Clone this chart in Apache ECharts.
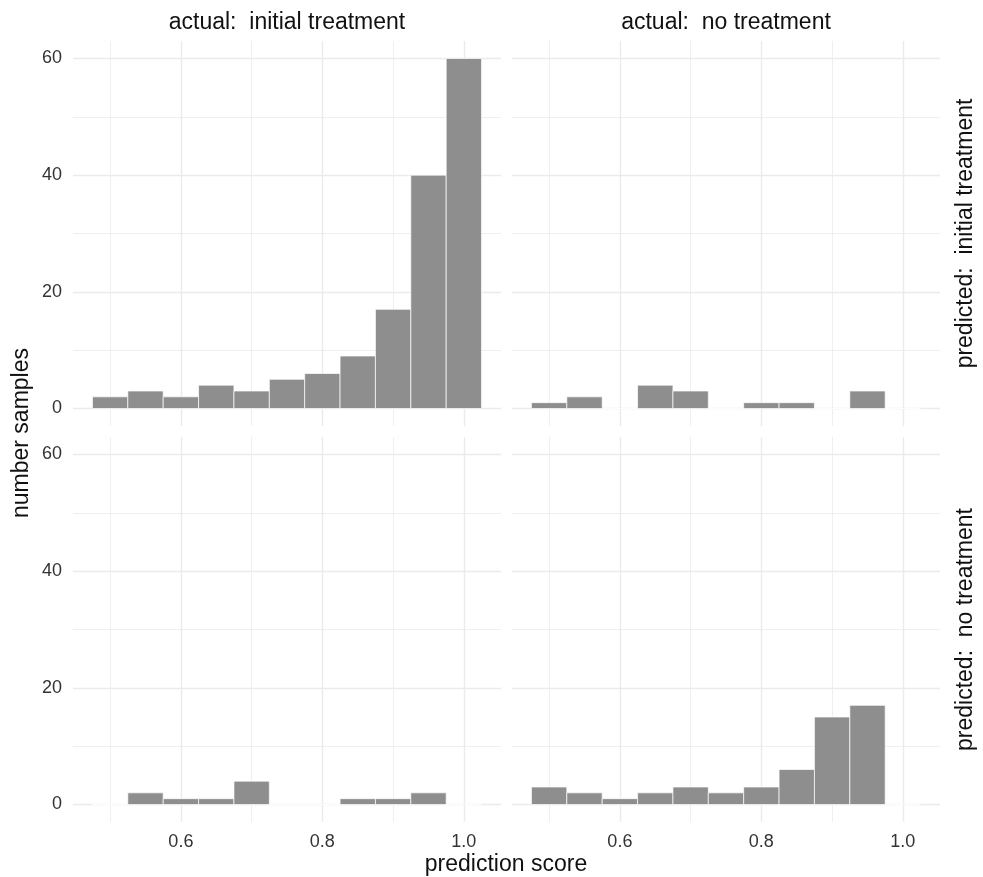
<!DOCTYPE html>
<html>
<head>
<meta charset="utf-8">
<script src="https://cdn.jsdelivr.net/npm/echarts@6/dist/echarts.min.js"></script>
<style>html,body{margin:0;padding:0;background:#fff}#c{width:983px;height:877px}</style>
</head>
<body>
<div id="c"></div>
<script>
// ---- data ----
const binCenters = [0.5, 0.55, 0.6, 0.65, 0.7, 0.75, 0.8, 0.85, 0.9, 0.95, 1.0];
const binWidth = 0.05;
// rows: predicted, columns: actual
const predInitial_actInitial = [2, 3, 2, 4, 3, 5, 6, 9, 17, 40, 60];
const predInitial_actNone    = [1, 2, 0, 4, 3, 0, 1, 1, 0, 3, 0];
const predNone_actInitial    = [0, 2, 1, 1, 4, 0, 0, 1, 1, 2, 0];
const predNone_actNone       = [3, 2, 1, 2, 3, 2, 3, 6, 15, 17, 0];
const colLabels = ['actual:  initial treatment', 'actual:  no treatment'];
const rowLabels = ['predicted:  initial treatment', 'predicted:  no treatment'];
const xTicks = [0.6, 0.8, 1.0];
const xMinor = [0.5, 0.7, 0.9];
const yTicks = [0, 20, 40, 60];
const yMinor = [10, 30, 50];
const xTitle = 'prediction score';
const yTitle = 'number samples';

// ---- layout ----
const FONT = '"Liberation Sans", Arial, Helvetica, sans-serif';
const panels = [
  {data: predInitial_actInitial, left: 73, top: 41, row: 0, col: 0},
  {data: predInitial_actNone,    left: 512, top: 41, row: 0, col: 1},
  {data: predNone_actInitial,    left: 73, top: 437, row: 1, col: 0},
  {data: predNone_actNone,       left: 512, top: 437, row: 1, col: 1}
];
const PW = 428, PH = 385;
const XMIN = 0.4475, XMAX = 1.0525, YMIN = -3, YMAX = 63;
const gridColor = '#ebebeb';
const tickColor = '#333333';

const grid = [], xAxis = [], yAxis = [], series = [];
panels.forEach((p, i) => {
  grid.push({left: p.left, top: p.top, width: PW, height: PH, containLabel: false, outerBoundsMode: 'none'});
  // major x axis
  xAxis.push({
    type: 'value', gridIndex: i, min: XMIN, max: XMAX, position: 'bottom',
    axisLine: {show: false},
    axisTick: {show: false, customValues: xTicks},
    axisLabel: {show: p.row === 1, customValues: xTicks, formatter: v => v.toFixed(1),
      fontSize: 18, color: tickColor, fontFamily: FONT, margin: 11},
    splitLine: {show: true, lineStyle: {color: gridColor, width: 1.4}}
  });
  // minor x axis
  xAxis.push({
    type: 'value', gridIndex: i, min: XMIN, max: XMAX, position: 'top',
    axisLine: {show: false},
    axisTick: {show: false, customValues: xMinor},
    axisLabel: {show: false, customValues: xMinor},
    splitLine: {show: true, lineStyle: {color: gridColor, width: 0.8}}
  });
  yAxis.push({
    type: 'value', gridIndex: i, min: YMIN, max: YMAX, position: 'left',
    axisLine: {show: false},
    axisTick: {show: false, customValues: yTicks},
    axisLabel: {show: p.col === 0, customValues: yTicks, fontSize: 18, color: tickColor, fontFamily: FONT, margin: 11},
    splitLine: {show: true, lineStyle: {color: gridColor, width: 1.4}}
  });
  yAxis.push({
    type: 'value', gridIndex: i, min: YMIN, max: YMAX, position: 'right',
    axisLine: {show: false},
    axisTick: {show: false, customValues: yMinor},
    axisLabel: {show: false, customValues: yMinor},
    splitLine: {show: true, lineStyle: {color: gridColor, width: 0.8}}
  });
  series.push({
    type: 'custom',
    xAxisIndex: i * 2,
    yAxisIndex: i * 2,
    data: binCenters.map((c, k) => [c, p.data[k]]),
    renderItem: function (params, api) {
      const x = api.value(0), y = api.value(1);
      const a = api.coord([x - binWidth / 2, 0]);
      const b = api.coord([x + binWidth / 2, y]);
      return {
        type: 'rect',
        shape: {x: a[0], y: b[1], width: b[0] - a[0], height: a[1] - b[1]},
        style: {fill: '#8e8e8e', stroke: '#ffffff', lineWidth: 0.7}
      };
    },
    silent: true,
    z: 3
  });
});

const textStyle = (s) => Object.assign({fontSize: 23, fontFamily: FONT, fill: '#111111'}, s);
const graphic = [
  {type: 'text', x: 73 + PW / 2, y: 23, style: textStyle({text: colLabels[0], align: 'center', verticalAlign: 'middle'})},
  {type: 'text', x: 512 + PW / 2, y: 23, style: textStyle({text: colLabels[1], align: 'center', verticalAlign: 'middle'})},
  {type: 'text', x: 966, y: 41 + PH / 2, rotation: Math.PI / 2, style: textStyle({text: rowLabels[0], align: 'center', verticalAlign: 'middle'})},
  {type: 'text', x: 966, y: 437 + PH / 2, rotation: Math.PI / 2, style: textStyle({text: rowLabels[1], align: 'center', verticalAlign: 'middle'})},
  {type: 'text', x: 22, y: 433, rotation: Math.PI / 2, style: textStyle({text: yTitle, align: 'center', verticalAlign: 'middle'})},
  {type: 'text', x: 506, y: 865, style: textStyle({text: xTitle, align: 'center', verticalAlign: 'middle'})}
];

const chart = echarts.init(document.getElementById('c'), null, {renderer: 'canvas'});
chart.setOption({
  animation: false,
  backgroundColor: '#ffffff',
  grid, xAxis, yAxis, series, graphic
});
</script>
</body>
</html>
